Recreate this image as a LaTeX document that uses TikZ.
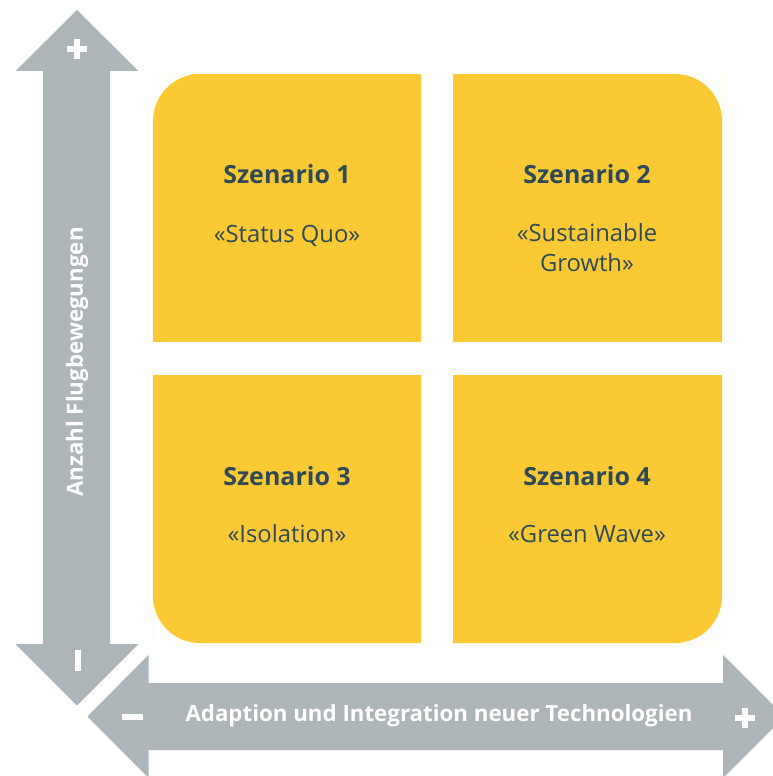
\documentclass[tikz,border=0pt]{standalone}
\usepackage{fontspec}
\setmainfont{Open Sans}
\definecolor{boxyellow}{HTML}{FBC934}
\definecolor{arrowgray}{HTML}{AEB5B9}
\definecolor{textdark}{HTML}{2E4A56}
\tikzset{
  quad/.style={fill=boxyellow, draw=none},
  bigarrow/.style={fill=arrowgray, draw=none},
  sign/.style={draw=white, line width=6pt},
  title/.style={text=textdark, font=\fontsize{25}{30}\selectfont\bfseries, anchor=base},
  sub/.style={text=textdark, font=\fontsize{23.8}{30}\selectfont, anchor=base, align=center},
  axislabel/.style={text=white, font=\fontsize{22.3}{26}\selectfont\bfseries},
}
\begin{document}
\begin{tikzpicture}[x=1pt,y=-1pt]
\useasboundingbox (0,0) rectangle (773,776);
% vertical arrow
\fill[bigarrow] (77,10) -- (138.5,71) -- (110,71) -- (110,644) -- (138.5,644) -- (77,705.5) -- (15.5,644) -- (43,644) -- (43,71) -- (15.5,71) -- cycle;
% horizontal arrow
\fill[bigarrow] (87.5,716.5) -- (148.5,655) -- (148.5,683) -- (723,683) -- (723,655) -- (784.5,716.5) -- (723,778) -- (723,750) -- (148.5,750) -- (148.5,778) -- cycle;
% signs
\draw[sign] (67,49) -- (87,49) (77,39) -- (77,59);
\draw[sign] (78,650) -- (78,671);
\draw[sign] (122,717) -- (143,717);
\draw[sign] (735,718) -- (755,718) (745,708) -- (745,728);
% axis labels
\node[axislabel, rotate=90] (ylab) at (77,362) {Anzahl Flugbewegungen};
\node[axislabel] (xlab) at (439,716) {Adaption und Integration neuer Technologien};
% boxes
\fill[quad] (153,342) [sharp corners] -- (153,120) [rounded corners=47pt] -- (153,74) -- (200,74) [sharp corners] -- (421,74) -- (421,342) -- cycle;
\fill[quad] (453,342) [sharp corners] -- (453,74) -- (675,74) [rounded corners=47pt] -- (722,74) -- (722,120) [sharp corners] -- (722,342) -- cycle;
\fill[quad] (153,375) [sharp corners] -- (421,375) -- (421,643) -- (200,643) [rounded corners=47pt] -- (153,643) -- (153,596) [sharp corners] -- cycle;
\fill[quad] (453,375) [sharp corners] -- (722,375) -- (722,596) [rounded corners=47pt] -- (722,643) -- (675,643) [sharp corners] -- (453,643) -- cycle;
% texts
\node[title] (t1) at (287,183) {Szenario 1};
\node[sub] (s1) at (287,242) {«Status Quo»};
\node[title] (t2) at (587,183) {Szenario 2};
\node[sub, anchor=north] (s2) at (587,220) {«Sustainable\\Growth»};
\node[title] (t3) at (287,485) {Szenario 3};
\node[sub] (s3) at (287,542) {«Isolation»};
\node[title] (t4) at (587,485) {Szenario 4};
\node[sub] (s4) at (587,542) {«Green Wave»};
\end{tikzpicture}
\end{document}
